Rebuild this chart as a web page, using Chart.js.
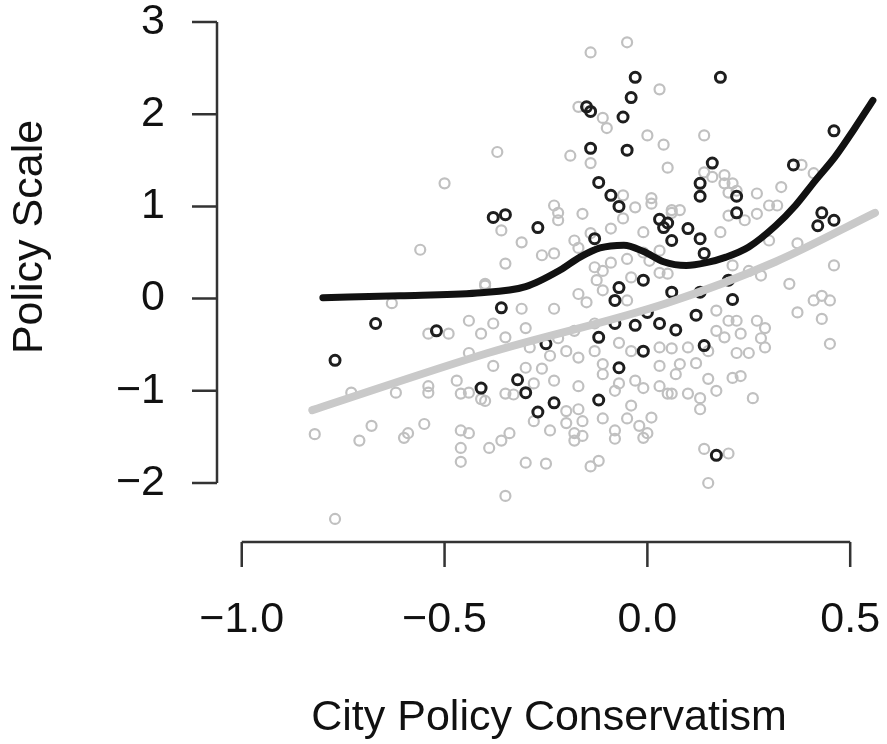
<!DOCTYPE html>
<html>
<head>
    <meta charset="UTF-8">
    <title>City Policy Conservatism vs Policy Scale</title>
    <script src="https://cdn.jsdelivr.net/npm/chart.js"></script>
    <style>
        body { margin: 0; background: #ffffff; }
        .chart-container { position: relative; width: 887px; height: 744px; }
    </style>
</head>
<body>
    <div class="chart-container">
        <canvas id="policyChart"></canvas>
    </div>

    <script>
        // Light grey circles (all cities)
        var grayX = [-0.73, -0.62, -0.54, -0.54, -0.47, -0.46, -0.44, -0.41, -0.44, -0.82, -0.71, -0.68, -0.60, -0.59, -0.55, -0.46, -0.44, -0.46, -0.46, -0.77,
            -0.39, -0.54, -0.49, -0.41, -0.50, -0.56, -0.40, -0.63, -0.44, -0.23, -0.22, -0.16, -0.22, -0.36, -0.31, -0.26, -0.23, -0.35, -0.18, -0.14,
            -0.09, -0.17, -0.40, -0.31, -0.30, -0.23, -0.17, -0.15, -0.13, -0.11, -0.09, -0.125, -0.06, -0.03, 0.01, 0.06, -0.01, -0.05, 0.03, 0.05,
            -0.04, -0.11, -0.05, -0.38, -0.35, -0.29, -0.22, -0.18, -0.13, -0.13, -0.07, -0.20, -0.24, -0.17, -0.04, 0.03, 0.06, -0.01, 0.03, 0.005,
            -0.05, -0.14, 0.03, -0.17, -0.11, -0.10, 0.00, 0.04, 0.05, -0.37, -0.19, -0.14, -0.06, 0.01,
            -0.38, -0.30, -0.26, -0.23, -0.28, -0.35, -0.33, -0.40, -0.17, -0.11, -0.11, -0.03, -0.01, 0.03, 0.03, -0.08, -0.07, -0.04, 0.01, 0.05,
            -0.28, -0.24, -0.20, -0.20, -0.17, -0.16, -0.18, -0.16, -0.18, -0.11, -0.05, -0.02, -0.08, -0.08, -0.01, 0.00, -0.36, -0.34, -0.30, -0.25,
            -0.14, -0.12, -0.35,
            0.14, 0.33, 0.14, 0.16, 0.19, 0.19, 0.21, 0.22, 0.20, 0.27, 0.30, 0.32, 0.38, 0.41, 0.06, 0.08, 0.20, 0.24, 0.27,
            0.18, 0.30, 0.37, 0.46, 0.21, 0.25, 0.28, 0.35, 0.41, 0.43, 0.45, 0.37, 0.43, 0.45, 0.17, 0.20, 0.22, 0.27, 0.29, 0.17,
            0.19, 0.23, 0.28, 0.29, 0.22, 0.25, 0.15, 0.10, 0.08, 0.12, 0.15, 0.21, 0.23, 0.17, 0.26, 0.07, 0.06, 0.10, 0.13,
            0.13, 0.14, 0.20, 0.15];
        var grayY = [-1.02, -1.02, -1.02, -0.95, -0.89, -1.03, -1.02, -1.09, -0.59, -1.47, -1.54, -1.38, -1.51, -1.46, -1.36, -1.43, -1.46, -1.62, -1.77, -2.39,
            -1.62, -0.38, -0.38, -0.38, 1.25, 0.53, 0.14, -0.05, -0.24, 1.01, 0.93, 0.92, 0.85, 0.74, 0.61, 0.47, 0.49, 0.38, 0.63, 0.71,
            0.76, 0.55, 0.16, -0.11, -0.32, -0.11, 0.05, -0.04, 0.34, 0.30, 0.39, 0.20, 0.87, 0.99, 1.03, 0.93, 0.72, 0.43, 0.28, 0.27,
            0.23, 0.09, -0.02, -0.27, -0.42, -0.53, -0.43, -0.35, -0.27, -0.57, -0.48, -0.57, -0.62, -0.64, -0.57, -0.53, -0.54, 0.50, 0.52, 0.41,
            2.78, 2.67, 2.27, 2.08, 1.96, 1.85, 1.77, 1.67, 1.42, 1.59, 1.55, 1.47, 1.12, 1.09,
            -0.73, -0.75, -0.76, -0.89, -0.92, -1.03, -1.04, -1.11, -0.95, -0.82, -0.71, -0.89, -0.97, -0.95, -0.73, -1.00, -0.92, -1.16, -1.29, -1.03,
            -1.33, -1.43, -1.35, -1.22, -1.20, -1.33, -1.46, -1.49, -1.54, -1.30, -1.30, -1.38, -1.43, -1.52, -1.51, -1.46, -1.54, -1.46, -1.78, -1.79,
            -1.82, -1.76, -2.14,
            1.77, 1.21, 1.37, 1.32, 1.34, 1.25, 1.25, 1.17, 1.15, 1.14, 1.01, 1.01, 1.45, 1.36, 0.96, 0.96, 0.90, 0.85, 0.92,
            0.72, 0.63, 0.60, 0.36, 0.36, 0.30, 0.25, 0.16, -0.02, 0.03, -0.02, -0.15, -0.22, -0.49, -0.13, -0.24, -0.24, -0.24, -0.32, -0.35,
            -0.42, -0.38, -0.43, -0.53, -0.59, -0.59, -0.57, -0.53, -0.71, -0.70, -0.87, -0.86, -0.84, -1.00, -1.08, -0.82, -1.03, -1.03, -1.08,
            -1.20, -1.63, -1.68, -2.00];

        // Dark circles (highlighted cities)
        var darkX = [-0.77, -0.67, -0.52, -0.41, -0.38, -0.35, -0.36, -0.32, -0.30, -0.27, -0.23, -0.27, -0.25, -0.13, -0.12, -0.12, -0.12, -0.15, -0.14, -0.14,
            -0.09, -0.07, -0.08, -0.08, -0.07, -0.07, -0.06, -0.05, -0.04, -0.03, -0.03, -0.01, -0.01, 0.00, 0.03, 0.03, 0.04, 0.05, 0.06, 0.06,
            0.07, 0.10, 0.12, 0.13, 0.13, 0.13, 0.13, 0.14, 0.14, 0.16, 0.18, 0.20, 0.21, 0.22, 0.22, 0.17, 0.36, 0.42, 0.43, 0.46, 0.46];
        var darkY = [-0.67, -0.27, -0.35, -0.97, 0.88, 0.91, -0.10, -0.88, -1.02, -1.23, -1.13, 0.77, -0.49, 0.65, 1.26, -0.42, -1.10, 2.08, 2.03, 1.63,
            1.12, 1.00, -0.02, -0.27, 0.12, -0.75, 1.97, 1.61, 2.18, 2.40, -0.29, 0.20, -0.57, -0.15, 0.86, -0.27, 0.77, 0.82, 0.63, 0.07,
            -0.34, 0.76, -0.18, 1.11, 1.25, 0.65, 0.07, 0.49, -0.51, 1.47, 2.40, 0.20, -0.01, 0.93, 1.11, -1.70, 1.45, 0.79, 0.93, 0.85, 1.82];

        // Smoothed curve for highlighted cities (black)
        var smoothX = [-0.80, -0.61, -0.42, -0.30, -0.215, -0.166, -0.117, -0.058, -0.009, 0.040, 0.096, 0.145, 0.194, 0.25, 0.316, 0.365, 0.414, 0.463, 0.51, 0.556];
        var smoothY = [0.01, 0.03, 0.06, 0.13, 0.31, 0.45, 0.55, 0.58, 0.51, 0.40, 0.36, 0.39, 0.45, 0.56, 0.79, 1.01, 1.28, 1.54, 1.84, 2.15];

        // Fit line for all cities (grey)
        var fitX = [-0.826, -0.393, 0.047, 0.316, 0.561];
        var fitY = [-1.21, -0.59, -0.05, 0.40, 0.93];

        // Axis ticks
        var xTicks = [-1.0, -0.5, 0.0, 0.5];
        var xTickLabels = ['\u22121.0', '\u22120.5', '0.0', '0.5'];
        var yTicks = [3, 2, 1, 0, -1, -2];
        var yTickLabels = ['3', '2', '1', '0', '\u22121', '\u22122'];

        function toPoints(xs, ys) {
            return xs.map(function (x, i) { return { x: x, y: ys[i] }; });
        }

        var FONT = '43px "Liberation Sans", Arial, Helvetica, sans-serif';

        // R-style detached axes drawn from the chart scales
        var baseAxes = {
            id: 'baseAxes',
            afterDraw: function (chart) {
                var ctx = chart.ctx;
                var xs = chart.scales.x, ys = chart.scales.y;
                var area = chart.chartArea;
                ctx.save();
                ctx.strokeStyle = '#333333';
                ctx.lineWidth = 2.5;
                ctx.lineCap = 'butt';

                // y axis
                var yTop = ys.getPixelForValue(yTicks[0]);
                var yBot = ys.getPixelForValue(yTicks[yTicks.length - 1]);
                ctx.beginPath();
                ctx.moveTo(area.left, yTop);
                ctx.lineTo(area.left, yBot);
                yTicks.forEach(function (t) {
                    var py = ys.getPixelForValue(t);
                    ctx.moveTo(area.left - 25, py);
                    ctx.lineTo(area.left, py);
                });
                ctx.stroke();

                // x axis
                var xLeft = xs.getPixelForValue(xTicks[0]);
                var xRight = xs.getPixelForValue(xTicks[xTicks.length - 1]);
                ctx.beginPath();
                ctx.moveTo(xLeft, area.bottom);
                ctx.lineTo(xRight, area.bottom);
                xTicks.forEach(function (t) {
                    var px = xs.getPixelForValue(t);
                    ctx.moveTo(px, area.bottom);
                    ctx.lineTo(px, area.bottom + 25);
                });
                ctx.stroke();

                ctx.fillStyle = '#111111';
                ctx.font = FONT;
                ctx.textBaseline = 'middle';
                ctx.textAlign = 'right';
                yTicks.forEach(function (t, i) {
                    ctx.fillText(yTickLabels[i], area.left - 52, ys.getPixelForValue(t));
                });
                ctx.textAlign = 'center';
                xTicks.forEach(function (t, i) {
                    ctx.fillText(xTickLabels[i], xs.getPixelForValue(t), area.bottom + 78);
                });

                // titles
                ctx.fillText('City Policy Conservatism', 549, 718);
                ctx.save();
                ctx.translate(30, 237);
                ctx.rotate(-Math.PI / 2);
                ctx.fillText('Policy Scale', 0, 0);
                ctx.restore();
                ctx.restore();
            }
        };

        var ctx = document.getElementById('policyChart').getContext('2d');
        var policyChart = new Chart(ctx, {
            type: 'scatter',
            data: {
                datasets: [{
                    label: 'Smoothed',
                    data: toPoints(smoothX, smoothY),
                    showLine: true,
                    borderColor: '#111111',
                    borderWidth: 7,
                    borderCapStyle: 'round',
                    borderJoinStyle: 'round',
                    pointRadius: 0,
                    cubicInterpolationMode: 'monotone',
                    order: 0
                }, {
                    label: 'Fit',
                    data: toPoints(fitX, fitY),
                    showLine: true,
                    borderColor: '#c9c9c9',
                    borderWidth: 8,
                    borderCapStyle: 'round',
                    pointRadius: 0,
                    cubicInterpolationMode: 'monotone',
                    order: 1
                }, {
                    label: 'Highlighted',
                    data: toPoints(darkX, darkY),
                    pointStyle: 'circle',
                    pointRadius: 5,
                    borderWidth: 3,
                    borderColor: '#1e1e1e',
                    backgroundColor: 'rgba(0,0,0,0)',
                    order: 2
                }, {
                    label: 'All',
                    data: toPoints(grayX, grayY),
                    pointStyle: 'circle',
                    pointRadius: 5,
                    borderWidth: 2.2,
                    borderColor: '#c0c0c0',
                    backgroundColor: 'rgba(0,0,0,0)',
                    order: 3
                }]
            },
            options: {
                responsive: true,
                maintainAspectRatio: false,
                animation: false,
                layout: { padding: { left: 217, right: 3, top: 8, bottom: 202 } },
                plugins: {
                    legend: { display: false },
                    tooltip: { enabled: false }
                },
                scales: {
                    x: { type: 'linear', min: -1.061, max: 0.571, display: false },
                    y: { type: 'linear', min: -2.64, max: 3.152, display: false }
                }
            },
            plugins: [baseAxes]
        });
    </script>
</body>
</html>
